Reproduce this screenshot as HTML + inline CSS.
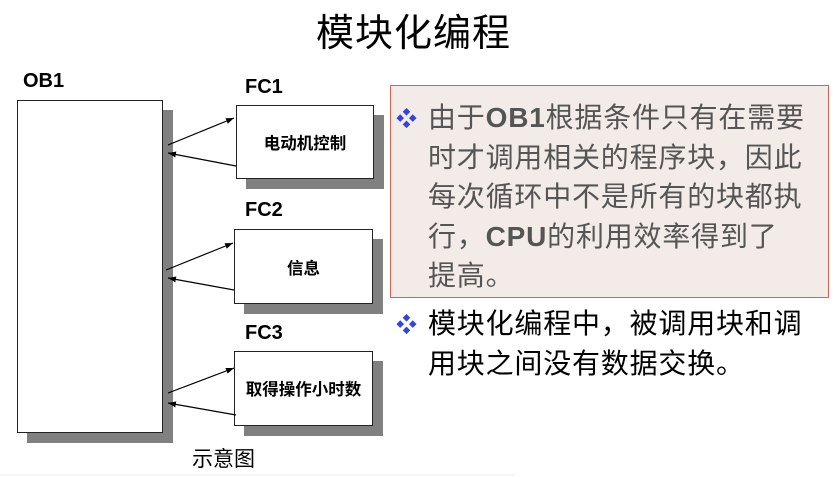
<!DOCTYPE html>
<html><head><meta charset="utf-8"><style>
body{margin:0;width:839px;height:477px;background:#fff;position:relative;overflow:hidden;font-family:"Liberation Sans","Noto Sans CJK SC",sans-serif}
.a{position:absolute;white-space:nowrap}
.box{position:absolute;background:#fff;border:1px solid #222;box-sizing:border-box}
.sh{position:absolute;background:#808080}
.lbl{position:absolute;font-weight:bold;font-size:20px;color:#000}
.t{font-family:"Noto Sans CJK SC",sans-serif;font-size:16.5px;font-weight:bold;position:absolute;text-align:center;line-height:22px}
.p{position:absolute;font-size:28px;letter-spacing:0.8px;line-height:39.5px;font-family:"Liberation Sans","Noto Sans CJK SC",sans-serif;white-space:nowrap}
.bul{position:absolute;color:#3344dd;font-size:21px}
</style></head><body>
<div class="a" style="left:316px;top:5px;font-size:38px;font-family:'Noto Sans CJK SC',sans-serif;line-height:50px;letter-spacing:1px">模块化编程</div>

<div class="lbl" style="left:23px;top:70px">OB1</div>
<div class="sh" style="left:27px;top:110px;width:146px;height:333px"></div>
<div class="box" style="left:17px;top:100px;width:146px;height:333px"></div>

<div class="lbl" style="left:245px;top:76px">FC1</div>
<div class="sh" style="left:246px;top:115px;width:138px;height:74px"></div>
<div class="box" style="left:236px;top:105px;width:138px;height:74px"></div>
<div class="t" style="left:236px;top:131px;width:138px">电动机控制</div>

<div class="lbl" style="left:245px;top:199px">FC2</div>
<div class="sh" style="left:244px;top:239px;width:139px;height:75px"></div>
<div class="box" style="left:234px;top:229px;width:139px;height:75px"></div>
<div class="t" style="left:234px;top:256px;width:139px">信息</div>

<div class="lbl" style="left:245px;top:322px">FC3</div>
<div class="sh" style="left:244px;top:361px;width:139px;height:75px"></div>
<div class="box" style="left:234px;top:351px;width:139px;height:75px"></div>
<div class="t" style="left:234px;top:377px;width:139px">取得操作小时数</div>

<svg class="a" style="left:0;top:0" width="839" height="477">
<defs><marker id="m" markerWidth="8" markerHeight="6" refX="8" refY="3" orient="auto" markerUnits="userSpaceOnUse"><path d="M0,0L8,3L0,6z" fill="#000"/></marker></defs>
<g stroke="#000" stroke-width="1.2" marker-end="url(#m)">
<line x1="168" y1="145" x2="234" y2="118"/>
<line x1="236" y1="166" x2="168" y2="153"/>
<line x1="166" y1="270" x2="233" y2="243"/>
<line x1="234" y1="290" x2="168" y2="278"/>
<line x1="168" y1="393" x2="234" y2="368"/>
<line x1="236" y1="415" x2="168" y2="403"/>
</g>
<line x1="0" y1="475" x2="515" y2="475" stroke="#eee"/>
</svg>

<div class="a" style="left:192px;top:444px;font-size:21px;font-family:'Noto Sans CJK SC',sans-serif;line-height:28px">示意图</div>

<div class="a" style="left:390px;top:85px;width:439px;height:213px;background:#f3ebe8;border:1px solid #e06050;box-sizing:border-box"></div>
<div class="bul" style="left:396px;top:103px">❖</div>
<div class="p" style="left:428px;top:98px;color:#555">由于<b>OB1</b>根据条件只有在需要<br>时才调用相关的程序块，因此<br>每次循环中不是所有的块都执<br>行，<b>CPU</b>的利用效率得到了<br>提高。</div>

<div class="bul" style="left:396px;top:309px">❖</div>
<div class="p" style="left:428px;top:304px;color:#000">模块化编程中，被调用块和调<br>用块之间没有数据交换。</div>
</body></html>
